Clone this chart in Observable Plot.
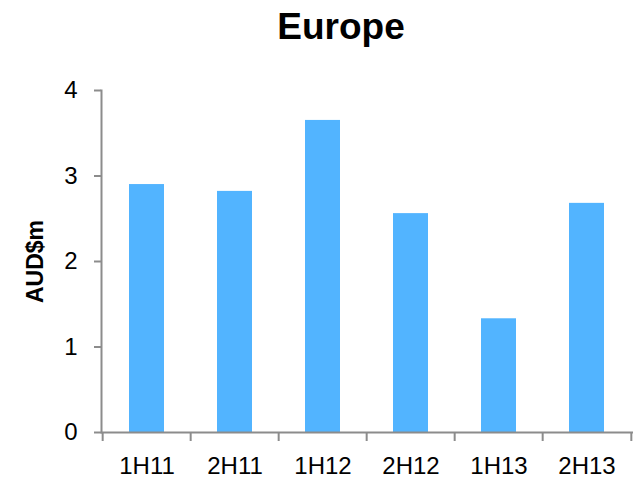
<!DOCTYPE html>
<html><head><meta charset="utf-8">
<script src="https://cdn.jsdelivr.net/npm/d3@7"></script>
<script src="https://cdn.jsdelivr.net/npm/@observablehq/plot@0.6"></script>
<style>
body{margin:0;background:#fff;}
#wrap{position:relative;width:637px;height:478px;overflow:hidden;}
#title{position:absolute;left:250px;width:182px;text-align:center;top:8px;font:bold 37px/37px "Liberation Sans",Arial,sans-serif;color:#000;}
#chart{position:absolute;left:0;top:0;}
#chart svg g[aria-label="y-axis label"] text{font-weight:bold;font-size:23px;font-family:"Liberation Sans",Arial,sans-serif;}
</style></head><body>
<div id="wrap"><div id="chart"></div><div id="title">Europe</div></div>
<script>
const periods = ["1H11","2H11","1H12","2H12","1H13","2H13"];
const values = [2.90, 2.82, 3.65, 2.56, 1.33, 2.68];
const yTicks = [0, 1, 2, 3, 4];
const yLabel = "AUD$m";

const data = periods.map((p, i) => ({period: p, value: values[i]}));
const W = 637, H = 478, mL = 101, mR = 4, mT = 90, mB = 46;
const step = (W - mL - mR) / periods.length;
const axisColor = "#8c8c8c";

const chart = Plot.plot({
  width: W, height: H,
  marginLeft: mL, marginRight: mR, marginTop: mT, marginBottom: mB,
  style: {fontSize: "24px", fontFamily: "'Liberation Sans', Arial, sans-serif", color: "#000", background: "transparent"},
  x: {domain: periods, paddingInner: 0.6, paddingOuter: 0.3, label: null},
  y: {domain: [0, 4], ticks: yTicks, label: yLabel},
  marks: [
    Plot.barY(data, {x: "period", y: "value", fill: "#52b4ff"}),
    Plot.ruleY([0], {stroke: axisColor, strokeWidth: 2}),
    Plot.frame({anchor: "left", stroke: axisColor, strokeWidth: 2}),
    Plot.ruleX(periods, {x: d => d, y1: 0, y2: 0, insetBottom: -9, dx: -step / 2, stroke: axisColor, strokeWidth: 2}),
    Plot.ruleX(periods.slice(-1), {x: d => d, y1: 0, y2: 0, insetBottom: -9, dx: step / 2, stroke: axisColor, strokeWidth: 2}),
    Plot.axisX({tickSize: 0, tickPadding: 24, label: null, fill: "#000"}),
    Plot.axisY({ticks: yTicks, tickSize: 7, tickPadding: 17, stroke: axisColor, strokeWidth: 2, fill: "#000",
      label: yLabel, labelAnchor: "center", labelArrow: "none", labelOffset: 75, tickFormat: d3.format("d")})
  ]
});
document.getElementById("chart").appendChild(chart);
</script>
</body></html>
